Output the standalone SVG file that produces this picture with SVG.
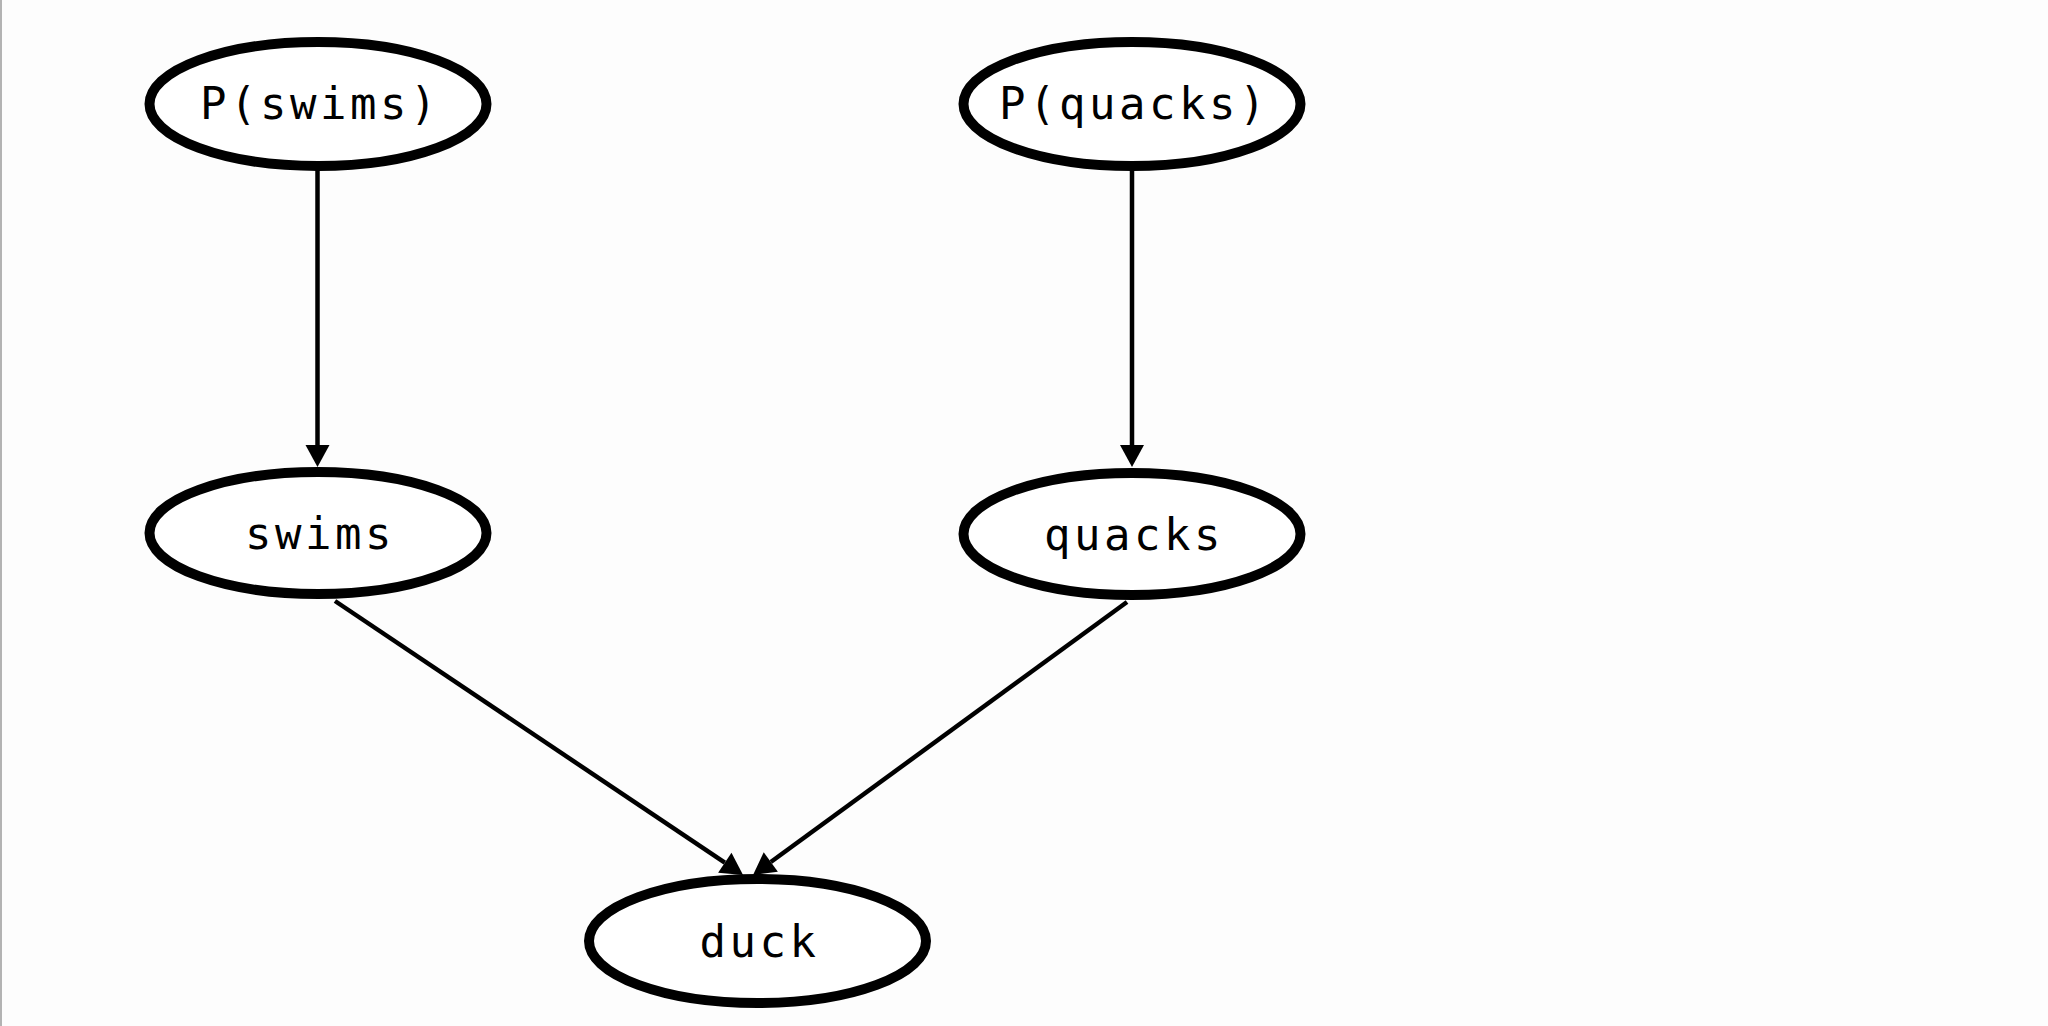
<svg xmlns="http://www.w3.org/2000/svg" width="2048" height="1026" viewBox="0 0 2048 1026">
<defs>
<style>
.node ellipse{fill:#fff;stroke:#000;stroke-width:10}
.node text{font-family:"DejaVu Sans Mono",monospace;font-size:44px;letter-spacing:3.5px;text-anchor:middle;fill:#000}
.edge{stroke:#000;stroke-width:4.5;fill:none}
</style>
<marker id="arr" markerUnits="userSpaceOnUse" markerWidth="23" markerHeight="25" refX="0" refY="12" orient="auto" overflow="visible">
<path d="M0,0 L22,12 L0,24 Z" fill="#000"/>
</marker>
</defs>
<rect width="2048" height="1026" fill="#fdfdfd"/>
<rect x="0" y="0" width="2" height="1026" fill="#b3b3b3"/>
<g id="connectors">
<line class="edge" x1="317.5" y1="166" x2="317.5" y2="445" marker-end="url(#arr)"/>
<line class="edge" x1="1132" y1="166" x2="1132" y2="445" marker-end="url(#arr)"/>
<line class="edge" x1="335" y1="601" x2="724.8" y2="862.7" marker-end="url(#arr)"/>
<line class="edge" x1="1127" y1="602" x2="770.8" y2="862" marker-end="url(#arr)"/>
</g>
<g id="p_swims" class="node">
<ellipse cx="318" cy="104" rx="168.5" ry="62"/>
<text x="320" y="119">P(swims)</text>
</g>
<g id="p_quacks" class="node">
<ellipse cx="1132" cy="104" rx="168.5" ry="62"/>
<text x="1134" y="119">P(quacks)</text>
</g>
<g id="swims" class="node">
<ellipse cx="318" cy="533" rx="168.5" ry="61"/>
<text x="320" y="549">swims</text>
</g>
<g id="quacks" class="node">
<ellipse cx="1132" cy="534" rx="168.5" ry="61"/>
<text x="1134" y="550">quacks</text>
</g>
<g id="duck" class="node">
<ellipse cx="757.5" cy="941" rx="168.5" ry="62"/>
<text x="759.5" y="957">duck</text>
</g>
</svg>
